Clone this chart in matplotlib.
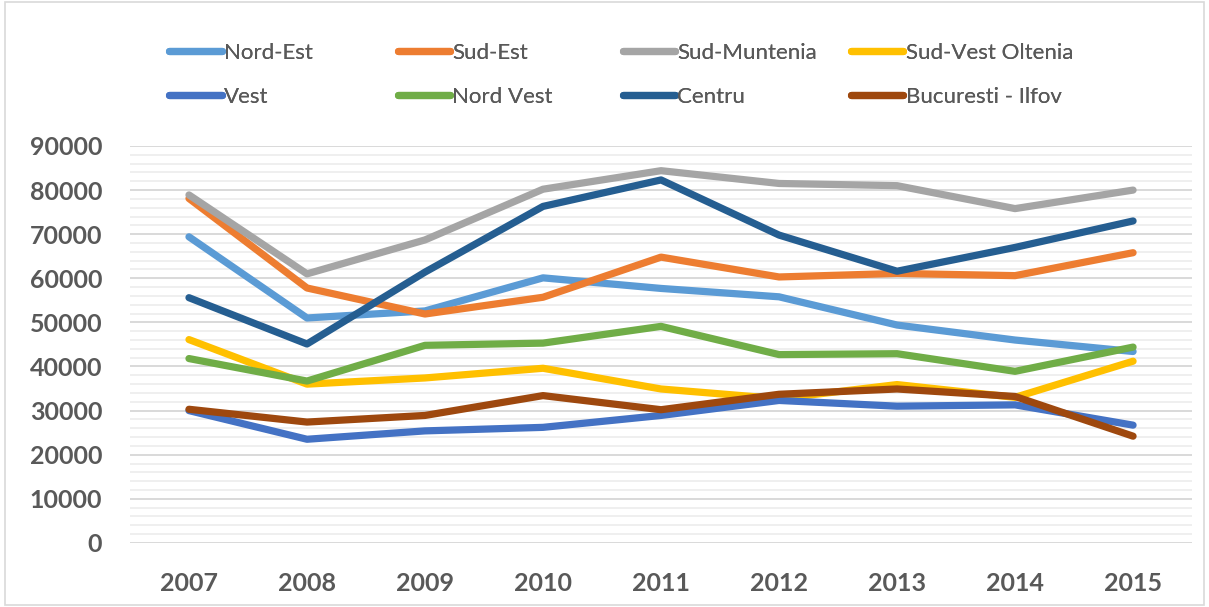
import matplotlib

matplotlib.use("Agg")
import matplotlib.pyplot as plt
from matplotlib.lines import Line2D
from matplotlib.patches import Rectangle
from matplotlib.ticker import MultipleLocator

# ─── Data ────────────────────────────────────────────────────────────────────

years = ["2007", "2008", "2009", "2010", "2011", "2012", "2013", "2014", "2015"]

nord_est = [69400, 51000, 52600, 60100, 57700, 55800, 49400, 46000, 43400]
sud_est = [78100, 57800, 51900, 55700, 64800, 60300, 61100, 60600, 65800]
sud_muntenia = [78900, 61000, 68700, 80200, 84400, 81500, 81000, 75800, 80000]
sud_vest_oltenia = [46100, 36000, 37400, 39600, 34900, 32700, 35900, 33000, 41200]
vest = [30000, 23500, 25400, 26200, 28900, 32300, 31000, 31300, 26700]
nord_vest = [41800, 36700, 44800, 45300, 49100, 42700, 42900, 38900, 44400]
centru = [55600, 45100, 61400, 76300, 82300, 69800, 61600, 67000, 73000]
bucuresti_ilfov = [30300, 27400, 28900, 33400, 30200, 33700, 34900, 33200, 24200]

series_names = [
    "Nord-Est", "Sud-Est", "Sud-Muntenia", "Sud-Vest Oltenia",
    "Vest", "Nord Vest", "Centru", "Bucuresti - Ilfov",
]
series_values = [
    nord_est, sud_est, sud_muntenia, sud_vest_oltenia,
    vest, nord_vest, centru, bucuresti_ilfov,
]
series_colors = [
    "#5B9BD5", "#ED7D31", "#A5A5A5", "#FFC000",
    "#4472C4", "#70AD47", "#255E91", "#9E480E",
]

# ─── Style ───────────────────────────────────────────────────────────────────

TEXT_COLOR = "#595959"
MAJOR_GRID = "#D9D9D9"
MINOR_GRID = "#EFEFEF"
FONT = ["Lato", "DejaVu Sans"]
LINE_W = 5.2

plt.rcParams["font.family"] = FONT

fig = plt.figure(figsize=(12.09, 6.07), dpi=100, facecolor="white")
ax = fig.add_axes([0.1075, 0.1056, 0.8785, 0.6539])

x = list(range(len(years)))
for name, vals, col in zip(series_names, series_values, series_colors):
    ax.plot(x, vals, color=col, linewidth=LINE_W, solid_capstyle="round",
            solid_joinstyle="round", label=name)

ax.set_xlim(-0.5, len(years) - 0.5)
ax.set_ylim(0, 90000)
ax.set_xticks(x)
ax.set_xticklabels(years)
ax.yaxis.set_major_locator(MultipleLocator(10000))
ax.yaxis.set_minor_locator(MultipleLocator(2000))

ax.grid(True, which="major", axis="y", color=MAJOR_GRID, linewidth=1.4, zorder=0)
ax.grid(True, which="minor", axis="y", color=MINOR_GRID, linewidth=1.4, zorder=0)
ax.set_axisbelow(True)

for spine in ax.spines.values():
    spine.set_visible(False)

ax.tick_params(axis="both", which="both", length=0, colors=TEXT_COLOR)
ax.tick_params(axis="y", pad=20)
ax.tick_params(axis="x", pad=21)
for lbl in ax.get_xticklabels() + ax.get_yticklabels():
    lbl.set_fontsize(18)
    lbl.set_fontweight("bold")
    lbl.set_color(TEXT_COLOR)

# Legend: four columns placed by hand, two rows each
col_x = [0.1235, 0.3125, 0.4985, 0.6875]
for c, xpos in enumerate(col_x):
    handles = []
    for idx in (c, c + 4):
        handles.append(Line2D([], [], color=series_colors[idx], linewidth=LINE_W,
                              solid_capstyle="round", label=series_names[idx]))
    leg = fig.legend(handles=handles, loc="upper left",
                     bbox_to_anchor=(xpos, 0.962), frameon=False,
                     handlelength=2.35, handletextpad=0.1, labelspacing=1.08,
                     prop={"family": FONT, "size": 16})
    for t in leg.get_texts():
        t.set_color(TEXT_COLOR)
    fig.add_artist(leg)

# Thin chart-area border
fig.add_artist(Rectangle((0.004, 0.004), 0.992, 0.992, transform=fig.transFigure,
                         fill=False, edgecolor=MAJOR_GRID, linewidth=1.2))

fig.savefig("out.png", dpi=100, facecolor="white")
